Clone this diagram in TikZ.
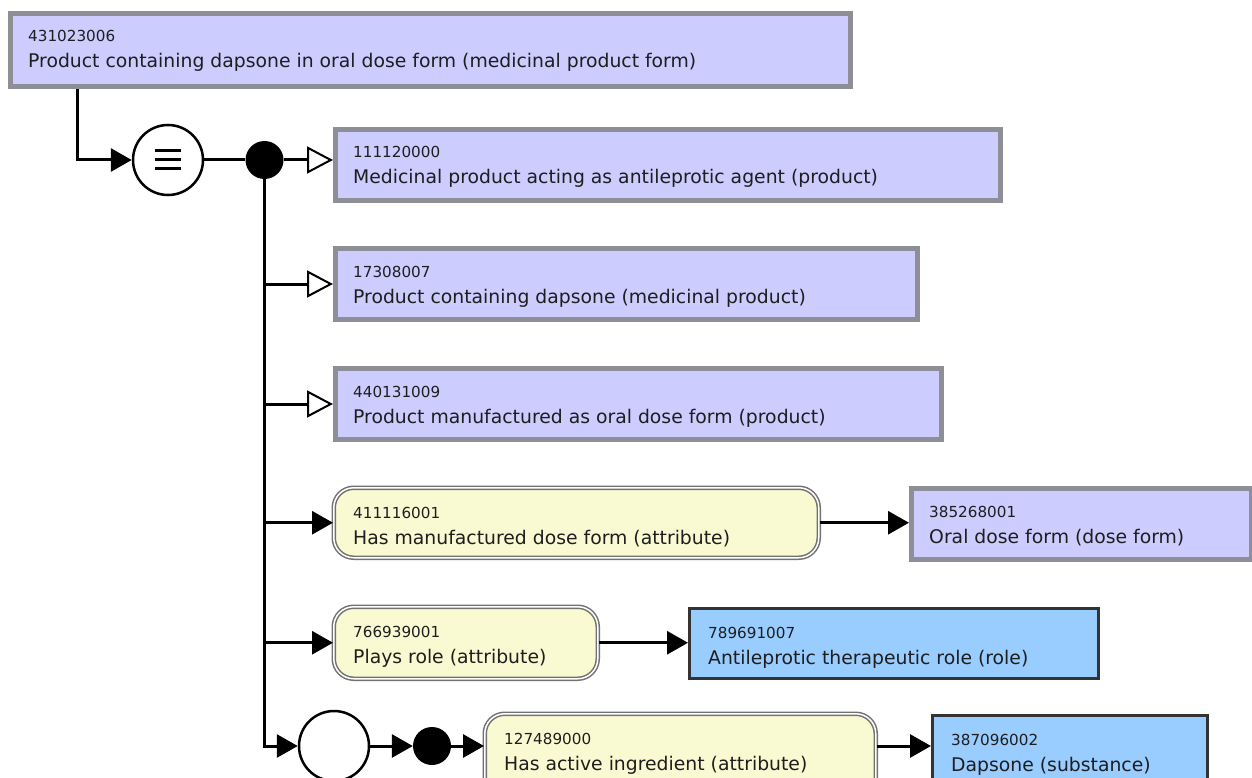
\documentclass[tikz,border=0pt]{standalone}
\usepackage{fontspec}
\setmainfont{DejaVu Sans}
\usetikzlibrary{arrows.meta}
\definecolor{lav}{HTML}{CCCCFF}
\definecolor{lavborder}{HTML}{8E8E96}
\definecolor{attrfill}{HTML}{FAFAD2}
\definecolor{attrborder}{HTML}{727272}
\definecolor{bluefill}{HTML}{99CCFF}
\definecolor{blueborder}{HTML}{333333}
\definecolor{txt}{HTML}{1E1E1E}
\tikzset{
  prim/.style={rectangle, fill=lav, draw=lavborder, line width=5pt, inner sep=0pt},
  attr/.style={rectangle, rounded corners=20pt, fill=attrfill, draw=attrborder, line width=1.5pt, double=white, double distance=1.5pt, inner sep=0pt},
  defd/.style={rectangle, fill=bluefill, draw=blueborder, line width=3pt, inner sep=0pt},
  idtext/.style={inner sep=0pt, text=txt, font=\fontsize{15.2}{18}\selectfont},
  labtext/.style={inner sep=0pt, text=txt, font=\fontsize{18.8}{22}\selectfont},
  conn/.style={line width=3pt, draw=black},
  fulltip/.style={-{Triangle[length=21pt,width=23pt]}},
  opentip/.style={-{Triangle[open,length=26pt,width=27pt,fill=white,line width=2pt]}},
  opcircle/.style={circle, draw=black, line width=2.5pt, fill=white, minimum size=70pt, inner sep=0pt},
  joindot/.style={circle, fill=black, minimum size=38pt, inner sep=0pt},
}
% name, style, x, y, w, h, id, label
\newcommand\conceptbox[8]{%
  \node[#2, minimum width=#5pt, minimum height=#6pt, anchor=north west] (#1) at (#3,#4) {};
  \node[idtext, anchor=base west] (#1-id) at ([xshift=20pt,yshift=-31pt]#1.north west) {#7};
  \node[labtext, anchor=base west] (#1-lab) at ([xshift=20pt,yshift=-57pt]#1.north west) {#8};
}
\begin{document}
\begin{tikzpicture}[x=1pt,y=-1pt]
\useasboundingbox (0,0) rectangle (1252,778);
\clip (0,0) rectangle (1252,778);
\fill[white] (0,0) rectangle (1252,778);

\conceptbox{c0}{prim}{8}{11}{840}{73}{431023006}{Product containing dapsone in oral dose form (medicinal product form)}
\conceptbox{c1}{prim}{333}{127}{665}{71}{111120000}{Medicinal product acting as antileprotic agent (product)}
\conceptbox{c2}{prim}{333}{246}{582}{71}{17308007}{Product containing dapsone (medicinal product)}
\conceptbox{c3}{prim}{333}{366}{606}{71}{440131009}{Product manufactured as oral dose form (product)}
\conceptbox{a1}{attr}{333}{487}{485}{70}{411116001}{Has manufactured dose form (attribute)}
\conceptbox{c4}{prim}{909}{486}{340}{71}{385268001}{Oral dose form (dose form)}
\conceptbox{a2}{attr}{333}{606}{264}{72}{766939001}{Plays role (attribute)}
\conceptbox{c5}{defd}{688}{607}{409}{70}{789691007}{Antileprotic therapeutic role (role)}
\conceptbox{a3}{attr}{484}{713}{391}{90}{127489000}{Has active ingredient (attribute)}
\conceptbox{c6}{defd}{931}{714}{275}{90}{387096002}{Dapsone (substance)}

% operator circles and join dots
\node[opcircle] (eq) at (168,160) {};
\draw[line width=3pt] ([xshift=-13pt,yshift=9pt]eq.center) -- ++(26,0)
  ([xshift=-13pt]eq.center) -- ++(26,0)
  ([xshift=-13pt,yshift=-9pt]eq.center) -- ++(26,0);
\node[joindot] (d1) at (264.5,160) {};
\node[opcircle] (g1) at (334,746) {};
\node[joindot] (d2) at (432,746) {};

% connectors
\draw[conn, fulltip] ([xshift=69pt]c0.south west) |- (eq.west);
\draw[conn] (eq.east) -- (d1.west);
\draw[conn, opentip] (d1.east) -- (d1.east -| c1.west);
\draw[conn, fulltip] (d1.south) |- (g1.west);
\draw[conn, opentip] (d1 |- c2.west) -- (c2.west);
\draw[conn, opentip] (d1 |- c3.west) -- (c3.west);
\draw[conn, fulltip] (d1 |- a1.west) -- (a1.west);
\draw[conn, fulltip] (d1 |- a2.west) -- (a2.west);
\draw[conn, fulltip] (g1.east) -- (d2.west);
\draw[conn, fulltip] (d2.east) -- (d2.east -| a3.west);
\draw[conn, fulltip] (a1.east) -- (a1.east -| c4.west);
\draw[conn, fulltip] (a2.east) -- (a2.east -| c5.west);
\draw[conn, fulltip] (a3.east |- d2) -- (d2 -| c6.west);
\end{tikzpicture}
\end{document}
